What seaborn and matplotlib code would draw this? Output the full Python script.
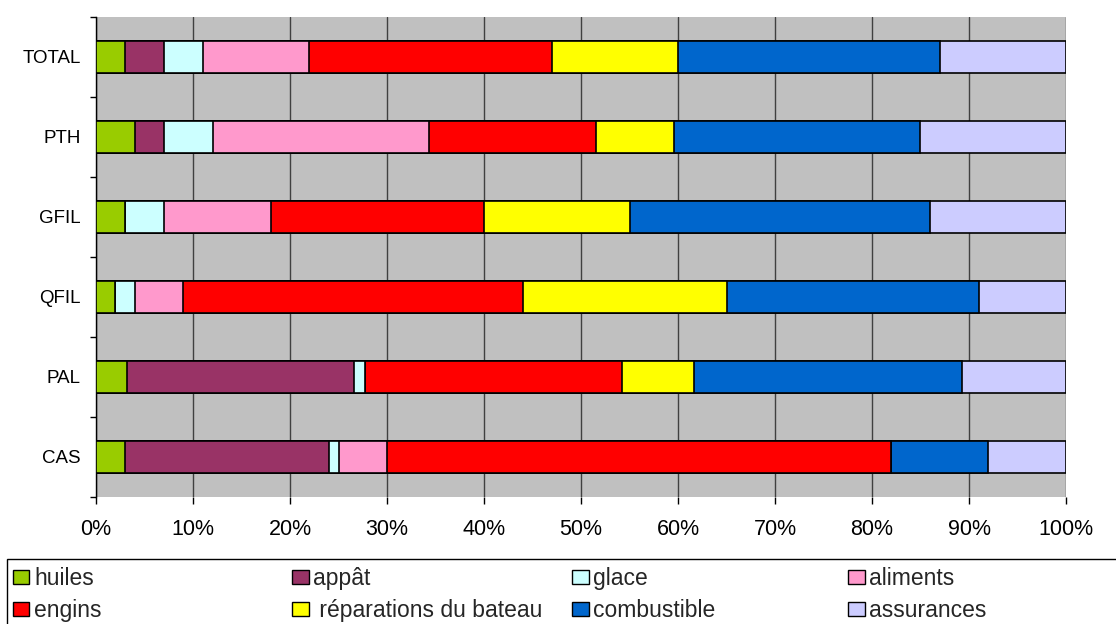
import numpy as np
import pandas as pd
import matplotlib.pyplot as plt
import seaborn as sns
from matplotlib.patches import Patch, Rectangle
from matplotlib.ticker import FuncFormatter

# Data (percent of total cost per fleet)
fleets = ["TOTAL", "PTH", "GFIL", "QFIL", "PAL", "CAS"]
categories = ["huiles", "appât", "glace", "aliments", "engins",
              " réparations du bateau", "combustible", "assurances"]
huiles = [3, 4, 3, 2, 3.2, 3]
appat = [4, 3, 0, 0, 23.4, 21]
glace = [4, 5.1, 4, 2, 1.1, 1]
aliments = [11, 22.2, 11, 5, 0, 5]
engins = [25, 17.2, 22, 35, 26.5, 52]
reparations = [13, 8.1, 15, 21, 7.5, 0]
combustible = [27, 25.3, 31, 26, 27.6, 10]
assurances = [13, 15.1, 14, 9, 10.7, 8]
colors = ["#99CC00", "#993366", "#CCFFFF", "#FF99CC", "#FF0000",
          "#FFFF00", "#0066CC", "#CCCCFF"]

df = pd.DataFrame({"flotte": fleets, "huiles": huiles, "appât": appat,
                   "glace": glace, "aliments": aliments, "engins": engins,
                   " réparations du bateau": reparations,
                   "combustible": combustible, "assurances": assurances})
values = df[categories]
cum = values.cumsum(axis=1).div(values.sum(axis=1), axis=0) * 100

sns.set_style("white")
plt.rcParams["font.family"] = ["Liberation Sans", "DejaVu Sans"]

fig = plt.figure(figsize=(11.16, 6.24), dpi=100)
ax = fig.add_axes([96 / 1116, 127 / 624, 970 / 1116, 480 / 624])
ax.set_facecolor("#C0C0C0")

# stacked bars: draw cumulative totals from the right-most segment down
for cat, col in reversed(list(zip(categories, colors))):
    sns.barplot(x=cum[cat], y=df["flotte"], order=fleets, orient="h",
                color=col, edgecolor="black", linewidth=1.2,
                width=0.39, saturation=1, ax=ax, zorder=3)

ax.set_xlim(0, 100)
ax.set_ylim(5.5, -0.5)
ax.set_xticks(np.arange(0, 101, 10))
ax.xaxis.set_major_formatter(FuncFormatter(lambda v, p: f"{v:.0f}%"))
ax.grid(axis="x", color="#404040", linewidth=1, zorder=1)
ax.set_axisbelow(True)
ax.set_xlabel("")
ax.set_ylabel("")

ax.set_yticks(np.arange(-0.5, 6, 1), minor=True)
ax.tick_params(axis="y", which="major", length=0, labelsize=13.5, pad=11,
               labelcolor="black")
ax.tick_params(axis="y", which="minor", length=4.5, width=1, color="black", left=True)
ax.tick_params(axis="x", length=5, width=1, color="black", bottom=True,
               labelsize=15.5, pad=11, labelcolor="black")

for s in ["top", "right", "bottom"]:
    ax.spines[s].set_visible(False)
ax.spines["left"].set_color("black")
ax.spines["left"].set_linewidth(1)

# legend frame running off the bottom/right edges
fig.patches.append(Rectangle((7 / 1116, -0.1), 1.2, (624 - 559) / 624 + 0.1,
                             transform=fig.transFigure, fill=False,
                             edgecolor="black", linewidth=1))

# legend: four columns at fixed positions, row-wise entries
col_x = [13, 292, 572, 848]
for j, x in enumerate(col_x):
    idx = [j, j + 4]
    hs = [Patch(facecolor=colors[i], edgecolor="black") for i in idx]
    fig.legend(hs, [categories[i] for i in idx], loc="upper left",
               bbox_to_anchor=(x / 1116, 1 - 567 / 624), ncol=1,
               fontsize=16.5, frameon=False, handlelength=0.72,
               handleheight=0.55, handletextpad=0.2, borderpad=0,
               labelspacing=0.38, borderaxespad=0)

plt.savefig("out.png", dpi=100)
